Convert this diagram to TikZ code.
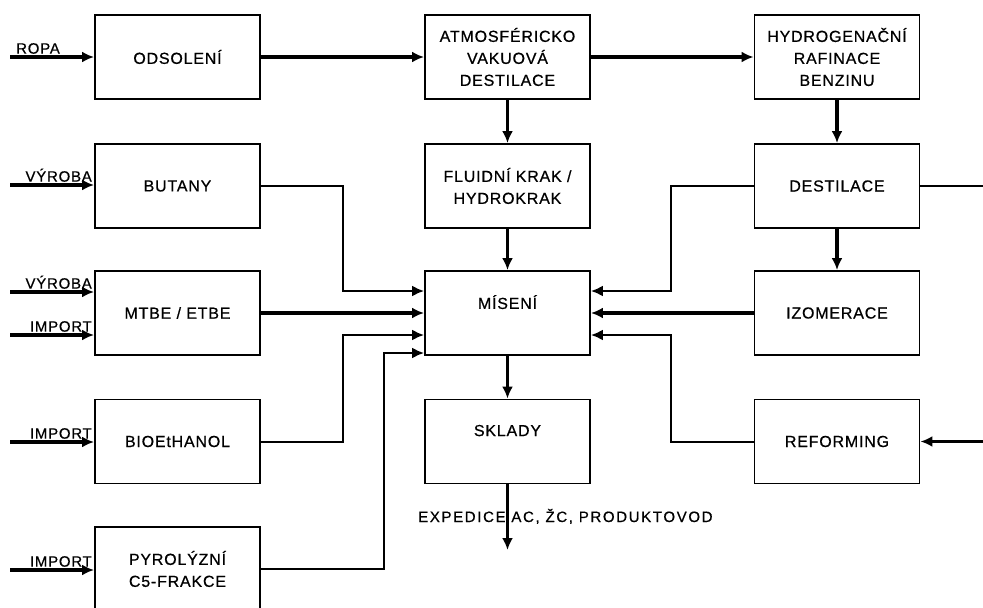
\documentclass[tikz,border=0pt]{standalone}
\usepackage{fontspec}
\setmainfont{Liberation Sans}
\newfontfamily\diafont[LetterSpace=5,FakeBold=0.6]{Liberation Sans}
\usetikzlibrary{arrows.meta}

\tikzset{
  blok/.style={draw, line width=1.9pt, minimum width=165pt, minimum height=84pt,
    inner sep=0pt, align=center, font=\diafont\fontsize{16}{22}\selectfont},
  popis/.style={inner sep=1pt, font=\diafont\fontsize{15}{18}\selectfont},
  tok/.style={line width=3.2pt, -{Latex[length=12pt,width=11pt]}},
  tenka/.style={line width=2pt},
  tenkatok/.style={line width=2pt, -{Latex[length=12pt,width=11pt]}},
}

\begin{document}
\begin{tikzpicture}[x=1pt,y=-1pt]
\path[use as bounding box, clip] (0,0) rectangle (983,608);
\fill[white] (0,0) rectangle (983,608);
% Drawing boxes
% Column 1
\node[blok] (odsol) at (177.5,57) {ODSOLENÍ};
\node[blok] (butany) at (177.5,186) {BUTANY};
\node[blok] (mtbe) at (177.5,313) {MTBE / ETBE};
\node[blok] (bioet) at (177.5,441.5) {BIOEtHANOL};
\node[blok] (pyrol) at (177.5,569) {PYROLÝZNÍ\\C5-FRAKCE};
% Column 2
\node[blok] (atmo) at (507.5,57) {ATMOSFÉRICKO\\VAKUOVÁ\\DESTILACE};
\node[blok] (fluid) at (507.5,186) {FLUIDNÍ KRAK /\\HYDROKRAK};
\node[blok] (misen) at (507.5,313) {MÍSENÍ\\\mbox{}};
\node[blok] (sklad) at (507.5,441.5) {SKLADY\\\mbox{}};
% Column 3
\node[blok] (hydro) at (837,57) {HYDROGENAČNÍ\\RAFINACE\\BENZINU};
\node[blok] (destil) at (837,186) {DESTILACE};
\node[blok] (izom) at (837,313) {IZOMERACE};
\node[blok] (reform) at (837,441.5) {REFORMING};
% Done with boxes; drawing inputs
\coordinate (vstropa) at (10,57);
\coordinate (vstbut) at (10,185);
\coordinate (vstmtba) at (10,292);
\coordinate (vstmtbb) at (10,335);
\coordinate (vstbio) at (10,442);
\coordinate (vstpyr) at (10,570);
\coordinate (vstref) at (983,441.5);
\coordinate (vstdes) at (983,186);
\coordinate (expedice) at (507.5,550);
\draw[tok] (vstropa) -- (vstropa -| odsol.west);
\draw[tok] (vstbut) -- (vstbut -| butany.west);
\draw[tok] (vstmtba) -- (vstmtba -| mtbe.west);
\draw[tok] (vstmtbb) -- (vstmtbb -| mtbe.west);
\draw[tok] (vstbio) -- (vstbio -| bioet.west);
\draw[tok] (vstpyr) -- (vstpyr -| pyrol.west);
\draw[tok] (vstref) -- (reform.east);
\node[popis, anchor=south west] (lropa) at (15,55) {ROPA};
\node[popis, anchor=south east] (lbut) at (93,183) {VÝROBA};
\node[popis, anchor=south east] (lmtba) at (93,290) {VÝROBA};
\node[popis, anchor=south east] (lmtbb) at (93,333) {IMPORT};
\node[popis, anchor=south east] (lbio) at (93,440) {IMPORT};
\node[popis, anchor=south east] (lpyr) at (93,568) {IMPORT};
% Drawing main line
\draw[tok] (odsol) -- (atmo);
\draw[tok] (atmo) -- (hydro);
\draw[tok] (atmo) -- (fluid);
\draw[tok] (fluid) -- (misen);
\draw[tok] (misen) -- (sklad);
\draw[tok] (hydro) -- (destil);
\draw[tok] (destil) -- (izom);
\draw[tok] (sklad) -- (expedice);
\node[popis, anchor=base west] (lexp) at (417,522)
  {\addfontfeature{LetterSpace=11}EXPEDICE AC, ŽC, PRODUKTOVOD};
% Drawing feeds into the mixing box
\draw[tenkatok] (butany.east) -- ++(82,0) |- (misen.west |- 0,291);
\draw[tok] (mtbe) -- (misen);
\draw[tenkatok] (bioet.east) -- ++(82,0) |- (misen.west |- 0,335);
\draw[tenkatok] (pyrol.east) -- ++(123,0) |- (misen.west |- 0,353);
\draw[tenkatok] (destil.west) -- ++(-83,0) |- (misen.east |- 0,291);
\draw[tok] (izom) -- (misen);
\draw[tenkatok] (reform.west) -- ++(-83,0) |- (misen.east |- 0,335);
\draw[tenka] (destil.east) -- (vstdes);
% Done with connectors
\end{tikzpicture}
\end{document}
